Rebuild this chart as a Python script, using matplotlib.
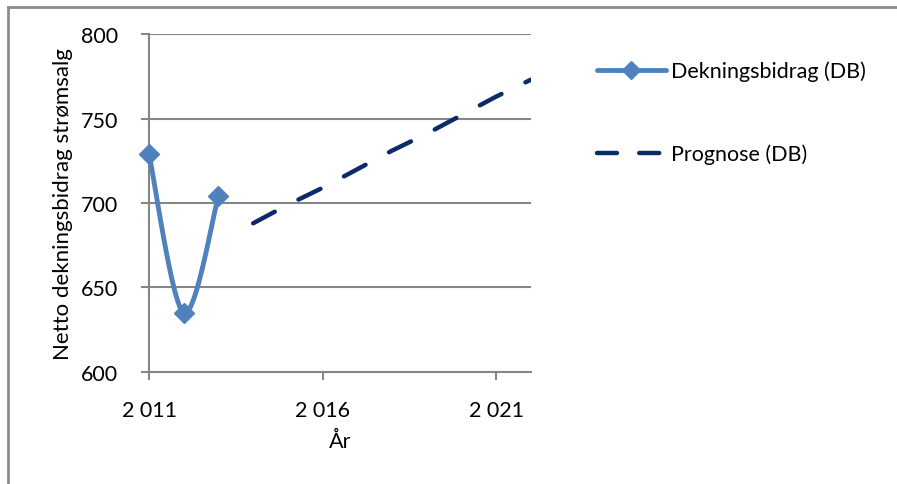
import matplotlib.pyplot as plt
import numpy as np
from matplotlib.lines import Line2D
from matplotlib.ticker import FuncFormatter

plt.rcParams['font.family'] = ['Lato', 'DejaVu Sans']

# Data
aar = [2011, 2012, 2013]
db = [729, 635, 704]
prognose_aar = [2014, 2015, 2016, 2017, 2018, 2019, 2020, 2021, 2022]
prognose_db = [688, 699, 709, 720, 731, 741, 752, 763, 773]

blaa = '#4F81BD'
moerkblaa = '#0B2A6B'
graa = '#868686'
fs = 15.5


def glatt(x, y, n=40):
    # Catmull-Rom kurve gjennom punktene (utjevnet linje)
    x = np.asarray(x, float)
    y = np.asarray(y, float)
    px = np.concatenate([[x[0]], x, [x[-1]]])
    py = np.concatenate([[y[0]], y, [y[-1]]])
    xs, ys = [], []
    t = np.linspace(0, 1, n)
    for i in range(1, len(px) - 2):
        for p, out in ((px, xs), (py, ys)):
            p0, p1, p2, p3 = p[i - 1], p[i], p[i + 1], p[i + 2]
            out.extend(0.5 * (2 * p1 + (-p0 + p2) * t
                              + (2 * p0 - 5 * p1 + 4 * p2 - p3) * t ** 2
                              + (-p0 + 3 * p1 - 3 * p2 + p3) * t ** 3))
    return xs, ys


fig = plt.figure(figsize=(8.97, 4.85), dpi=100)
ax = fig.add_axes([149 / 897, 1 - 373 / 485, 382 / 897, 338 / 485])

gx, gy = glatt(aar, db)
ax.plot(gx, gy, color=blaa, lw=3.5, solid_capstyle='round', zorder=3, clip_on=False)
ax.plot(aar, db, ls='none', marker='D', ms=10.5, color=blaa, zorder=4, clip_on=False)
ax.plot(prognose_aar, prognose_db, color=moerkblaa, lw=3.2,
        dashes=(5.5, 6), dash_capstyle='round', zorder=3)

ax.set_xlim(2011, 2022)
ax.set_ylim(600, 800)
ax.set_xticks([2011, 2016, 2021])
ax.set_yticks([600, 650, 700, 750, 800])
ax.xaxis.set_major_formatter(FuncFormatter(lambda v, p: f'{int(v):,}'.replace(',', ' ')))
ax.grid(axis='y', color=graa, lw=1.5)
ax.set_axisbelow(True)
for side in ('top', 'right'):
    ax.spines[side].set_visible(False)
for side in ('left', 'bottom'):
    ax.spines[side].set_color(graa)
    ax.spines[side].set_linewidth(1.5)
ax.tick_params(colors=graa, width=1.5, length=6, labelcolor='black',
               labelsize=fs)
ax.tick_params(axis='y', pad=16)
ax.tick_params(axis='x', pad=14)
ax.set_ylabel('Netto dekningsbidrag strømsalg', fontsize=fs + 0.5, labelpad=6)
ax.set_xlabel('År', fontsize=fs, labelpad=8)

handles = [
    Line2D([], [], color=blaa, lw=3.5, marker='D', ms=9, solid_capstyle='round'),
    Line2D([], [], color=moerkblaa, lw=3.2, dashes=(4.5, 5), dash_capstyle='round'),
]
fig.legend(handles, ['Dekningsbidrag (DB)', 'Prognose (DB)'],
           loc='upper left', bbox_to_anchor=(588 / 897, 1 - 53 / 485),
           frameon=False, fontsize=fs, handlelength=3.2, handletextpad=0.25,
           labelspacing=2.9, borderaxespad=0)

# Ramme rundt diagramområdet
fig.add_artist(Line2D([8 / 897, 8 / 897], [0, 1 - 8 / 485], color='#8C8C8C',
                      lw=2, transform=fig.transFigure))
fig.add_artist(Line2D([8 / 897, 1], [1 - 8 / 485, 1 - 8 / 485], color='#8C8C8C',
                      lw=2, transform=fig.transFigure))

fig.savefig('out.png', dpi=100)
